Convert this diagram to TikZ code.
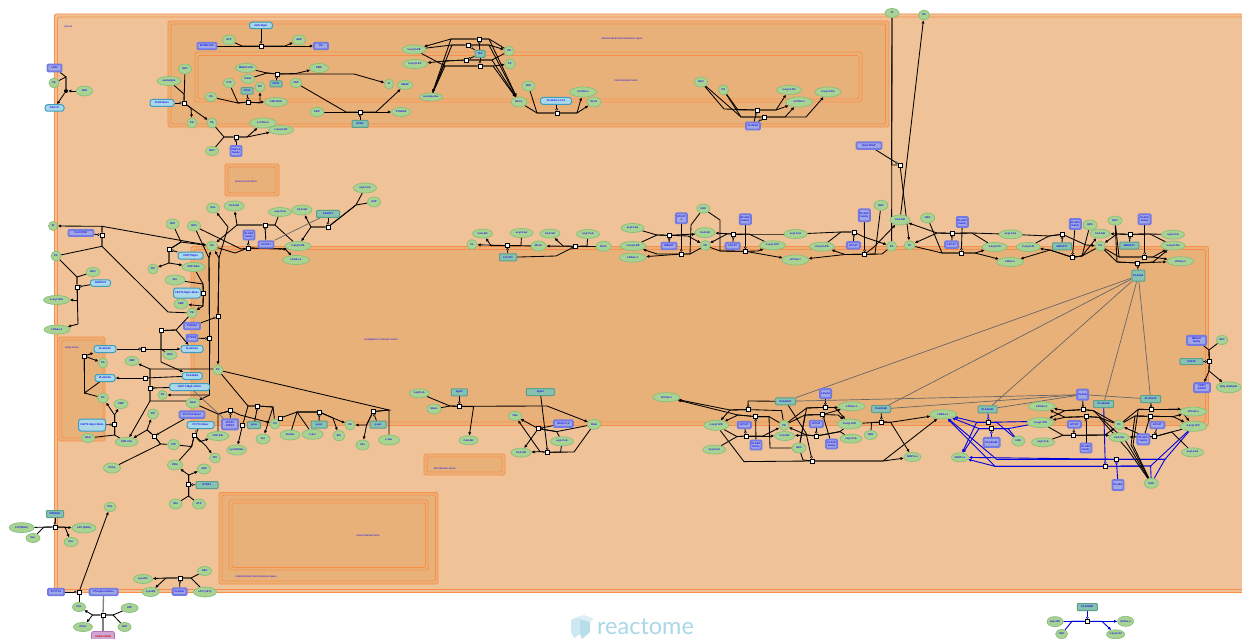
\documentclass[tikz,border=0pt]{standalone}
\usepackage{fontspec}
\setmainfont{Liberation Sans}
\newfontfamily\wm{Lato}
\usetikzlibrary{arrows.meta,shapes.geometric}
\pgfdeclarelayer{bg}
\pgfdeclarelayer{edges}
\pgfsetlayers{bg,edges,main}
\definecolor{cOut}{HTML}{EFC297}
\definecolor{cIn}{HTML}{E9B17A}
\definecolor{cLine}{HTML}{FA8E48}
\definecolor{cMol}{HTML}{A9D393}
\definecolor{cMolB}{HTML}{86BE7C}
\definecolor{cProt}{HTML}{86C2AF}
\definecolor{cProtB}{HTML}{5C9F8F}
\definecolor{cCpx}{HTML}{AAD8E8}
\definecolor{cCpxB}{HTML}{3C9DBE}
\definecolor{cSet}{HTML}{A0A8E4}
\definecolor{cSetB}{HTML}{747AE4}
\definecolor{cTxt}{HTML}{1A10F0}
\tikzset{
 ent/.style={inner sep=0pt,text=cTxt,align=center,font=\fontsize{2.6}{3}\selectfont\bfseries},
 mol/.style={ent,ellipse,draw=cMolB,fill=cMol,line width=.7pt},
 prot/.style={ent,rectangle,rounded corners=.8pt,draw=cProtB,fill=cProt,line width=1pt},
 cpx/.style={ent,rectangle,rounded corners=2.5pt,draw=cCpxB,fill=cCpx,line width=1pt},
 setn/.style={ent,rectangle,rounded corners=1pt,draw=cSetB,fill=cSet,line width=1.9pt},
 rx/.style={rectangle,draw=black,fill=white,line width=.8pt,minimum size=4pt,inner sep=0pt},
 dotn/.style={circle,fill=black,minimum size=4pt,inner sep=0pt},
 ln/.style={draw=black,line width=.85pt},
 ar/.style={ln,-{Latex[length=3.2pt,width=3.2pt]}},
 cat/.style={ln,-{Circle[open,fill=white,length=2.6pt,width=2.6pt,line width=.5pt]}},
 gry/.style={draw=black!60,line width=.7pt},
 bl/.style={draw=blue!90!black,line width=.9pt},
 bar/.style={bl,-{Latex[length=3.2pt,width=3.2pt]}},
 bcat/.style={bl,-{Circle[open,fill=white,length=2.6pt,width=2.6pt,line width=.5pt]}},
 cmp/.style={draw=cLine,line width=.8pt,rounded corners=1.5pt},
 clab/.style={inner sep=0pt,text=cTxt,font=\fontsize{2.6}{3}\selectfont},
}
\newcommand\Mol[6]{\node[mol,minimum width=#4pt,minimum height=#5pt] (#1) at (#2,#3) {#6};}
\newcommand\Prot[6]{\node[prot,minimum width=#4pt,minimum height=#5pt] (#1) at (#2,#3) {#6};}
\newcommand\Cpx[6]{\node[cpx,minimum width=#4pt,minimum height=#5pt] (#1) at (#2,#3) {#6};}
\newcommand\Setn[6]{\node[setn,minimum width=#4pt,minimum height=#5pt] (#1) at (#2,#3) {#6};}
\newcommand\Rx[3]{\node[rx] (#1) at (#2,#3) {};}
\newcommand\Cmp[5]{\path[cmp,fill=#5] (#1) rectangle (#2); \path[cmp] (#3) rectangle (#4);}
\newcommand\Ln[2]{\draw[ln] (#1) -- #2;}
\newcommand\Ar[2]{\draw[ar] (#1) -- #2;}
\newcommand\Kt[2]{\draw[cat] (#1) -- (#2);}
\begin{document}
\begin{tikzpicture}[x=1pt,y=-1pt]
\useasboundingbox (0,0) rectangle (1242,639);
\clip (0,0) rectangle (1242,639);
\begin{pgfonlayer}{bg}
\fill[white] (0,0) rectangle (1242,639);
\Cmp{54.5,14}{1250,592.5}{57.5,17}{1250,589.5}{cOut}
\Cmp{168,21}{889,127}{171,24}{885.5,124}{cIn}
\Cmp{195,52}{862,102}{198,55.5}{859,99}{cIn}
\Cmp{225,164}{279,196}{228,167}{276,193}{cIn}
\Cmp{191,246.5}{1208.5,425.5}{194,249.5}{1205.5,422}{cIn}
\Cmp{59,337}{105,441}{62,340}{103,438}{cIn}
\Cmp{219,492.5}{438,584}{222,495}{435.5,581}{cIn}
\Cmp{229,500}{428,570}{232,503}{425.5,567.5}{cIn}
\Cmp{424,454}{505,475}{427,457}{502,472}{cIn}
\end{pgfonlayer}
\node[clab] (lcyt) at (68,27) {cytosol};
\node[clab] (lims) at (622,38.5) {mitochondrial intermembrane space};
\node[clab] (lmat) at (626,80.5) {mitochondrial matrix};
\node[clab] (lper) at (246,182) {peroxisomal matrix};
\node[clab] (lerl) at (381,340) {endoplasmic reticulum lumen};
\node[clab] (lgol) at (72,348) {Golgi lumen};
\node[clab] (lmic) at (445,468.5) {Microbodies lumen};
\node[clab] (lims2) at (256,577) {mitochondrial intermembrane space};
\node[clab] (lmat2) at (368,536) {mitochondrial matrix};
% ---- nodes
\Setn{aas}{54.5}{68}{14}{7}{LPIN} \Mol{aa}{54}{83}{10}{10}{PA} \Mol{ab}{84.5}{91}{16}{10}{H2O} \Cpx{ac}{54.5}{108}{19}{6.5}{DAG:Pi} \node[dotn] (ad) at (66,91) {};
\Cpx{ap}{261}{25.5}{23}{6.5}{AGK:Mg2+} \Setn{as1}{207}{46}{19}{6.5}{MTMR:LPA} \Setn{as2}{321}{46}{14}{6.5}{PA} \Mol{aat}{229}{40}{13}{10}{ATP} \Mol{aad}{299}{40}{13}{10}{ADP} \Rx{ar}{261}{46}
\Mol{ba}{246}{68}{21}{9}{MGDG:LPA} \Mol{bb}{248}{79}{13}{9}{PGS1} \Mol{bc}{319}{68}{19}{9}{PMP} \Prot{bp}{276}{84}{12}{6}{PGS1} \Rx{br}{277}{74} \Mol{bd}{389}{84}{9}{10}{Pi}
\Mol{ca}{211}{97}{12}{9}{PA} \Mol{cb}{229}{83}{12}{9}{CTP} \Prot{cc}{247}{91}{12}{6.5}{CDS2} \Mol{ce}{260}{87}{10}{10}{PPi} \Mol{cf}{276}{102}{23}{9}{CDP-DAG} \Rx{cr}{248}{102}
\Mol{da}{317}{112}{14}{9}{PGP} \Mol{db}{296}{83}{12}{9}{CDP} \Mol{dc}{401}{112}{19}{9}{PTGDS2} \Mol{dd}{405}{85}{15}{9}{GMAP} \Prot{dp}{360}{124}{16}{7}{GPD2} \Rx{dr}{360}{112}
\Cpx{ep}{162}{103}{24}{7}{PLD6:Mn2+} \Mol{ea}{169}{81}{24}{9}{cardiolipin} \Mol{eb}{185}{69}{13}{10}{H2O} \Mol{ec}{192}{123}{10}{10}{PG} \Mol{ed}{212}{123}{10}{10}{PA} \Rx{er}{184}{103}
\Mol{fb}{212}{151}{13}{9}{H2O} \Mol{fc}{263}{123}{27}{10}{1,2 PAx-1} \Mol{fd}{281}{130}{25}{9}{1-acyl LPA} \Setn{fs}{236}{151}{11}{10}{PNPLA\\family} \Rx{fr}{236}{137}
\Mol{ga}{414}{49.5}{24}{9}{1-acyl LPE} \Mol{gb}{415}{64}{25}{9}{2-acyl LPC} \Mol{gc}{431}{97}{23}{8}{acetylserine} \Mol{gd}{509}{51}{10}{10}{PE} \Mol{ge}{510}{64}{10}{10}{PC} \Prot{gp}{480}{54}{10}{7}{TAZ} \Rx{gr}{479}{39} \Rx{gs}{468}{45} \Rx{gt}{466}{60} \Rx{gu}{480}{66} \Mol{gf}{519}{102}{16}{10}{MLCL}
\Mol{hb}{528.5}{86}{13}{10}{H2O} \Cpx{hc}{556}{101}{31}{7}{PLA2G6 L:LP1} \Mol{hd}{583}{92}{27}{10}{1,2 PAx-1} \Mol{he}{594}{102}{14}{10}{DLCL} \Rx{hr}{557}{113}
\Mol{ia}{701}{82}{13}{10}{H2O} \Mol{ib}{723.5}{90}{10}{10}{PG} \Mol{ic}{789}{90}{25}{9}{1-acyl LPG} \Mol{id}{799}{102}{27}{10}{1,2 PAx-1} \Mol{ie}{828}{92}{26}{10}{2-acyl LPG} \Setn{is}{753}{126}{14}{7}{PLA2G6} \Rx{ir}{757}{110} \Rx{it}{764}{117}
\Mol{ta1}{892}{13}{14}{9}{Pi} \Mol{ta2}{924}{15}{11}{10}{PA} \Setn{js}{869}{145.6}{25}{6.5}{DAG PPAP} \Rx{jr}{900}{165}
\Mol{ka}{472}{244.6}{10}{10}{CL} \Mol{kb}{482.6}{233.6}{20}{9}{CoA-SH} \Mol{kc}{521.6}{233}{23}{9}{acyl-CoA} \Mol{kd}{538.6}{246}{15}{10}{MLCL} \Prot{kp}{508}{257.3}{17}{7}{LCLAT1} \Rx{kr}{507.3}{245.6}
\Mol{la}{550}{233.6}{20}{9}{CoA-SH} \Mol{lb}{588}{234}{23}{9}{acyl-CoA} \Mol{lc}{603.6}{246.3}{15}{10}{DLCL} \Rx{lr}{575.3}{246.3}
\Mol{ma}{632.6}{228}{23}{9}{acyl-CoA} \Mol{mb}{633}{246}{26}{9}{1-acyl LPE} \Mol{mc}{632.6}{257.6}{27}{9}{LPEAx-1} \Setn{md}{669}{246}{15}{6.5}{MBOAT} \Setn{me}{681.3}{218.3}{11}{10}{LPCAT\\4} \Mol{mf}{705}{232.6}{20}{10}{CoA-SH} \Mol{mg}{703.3}{208.6}{13}{9}{H2O} \Mol{mh}{705.3}{245.6}{10}{10}{PE} \Rx{mr}{669.3}{235.3} \Rx{ms}{681.3}{254}
\Setn{nb}{732.6}{246}{14}{6.5}{LPCAT} \Setn{nc}{745.3}{219.3}{11}{10}{PLA2G\\family} \Mol{nd}{795.6}{234}{23}{9}{acyl-CoA} \Mol{ne}{772.6}{245.3}{26}{9}{1-acyl LPC} \Mol{nf}{795.3}{260}{27}{10}{LPCAx-1} \Rx{nr}{733.6}{234} \Rx{ns}{745.3}{251.3}
\Mol{oa}{822}{246.6}{25}{9}{2-acyl LPS} \Setn{ob}{853.3}{245.3}{13}{6.5}{LPCAT} \Setn{oc}{864.3}{215.3}{11}{12}{PLA2G\\family} \Mol{od}{881}{205.3}{14}{10}{H2O} \Mol{oe}{900}{220}{20}{10}{CoA-SH} \Mol{of}{891.6}{246.3}{10}{10}{PS} \Rx{or}{854}{232} \Rx{os}{864.6}{254.3}
\Mol{pb}{909.6}{245.3}{11}{9}{PI} \Mol{pc}{927.6}{218}{14}{10}{H2O} \Setn{pd}{951.6}{244.6}{13}{6.5}{LPCAT} \Setn{pe}{962.3}{222}{11}{10}{PLA2G\\family} \Mol{pf}{994.6}{247}{25}{9}{1-acyl LPI} \Mol{pg}{1010.6}{234.3}{23}{9}{acyl-CoA} \Mol{ph}{1010}{262}{27}{9}{LPIAx-1} \Rx{pr}{952.3}{233.3} \Rx{ps}{961.3}{253}
\Mol{qa}{1028.3}{247}{24}{9}{2-acyl LPI} \Prot{qb}{1062}{246.3}{19}{7}{MBOAT7} \Setn{qc}{1075.3}{224}{11}{10}{PLA2G\\family} \Mol{qd}{1090}{225}{14}{10}{H2O} \Mol{qe}{1100}{233.6}{20}{9}{CoA-SH} \Mol{qf}{1100.3}{246}{10}{10}{PG} \Rx{qr}{1062.3}{234.3} \Rx{qs}{1072.3}{257.3}
\Mol{ra}{1115}{220.6}{14}{9}{H2O} \Prot{rb}{1129.3}{245.6}{19}{7}{MBOAT7} \Setn{rc}{1144.6}{219.3}{12}{10}{PLA2G\\family} \Mol{rd}{1173}{234.6}{23}{9}{acyl-CoA} \Mol{re}{1173}{245.6}{24}{9}{1-acyl LPG} \Mol{rf}{1180.3}{261.3}{27}{9}{LPGAx-1} \Prot{rp}{1138.3}{275.6}{13}{11}{PLA2G4} \Rx{rr}{1130}{234.3} \Rx{rs}{1144.6}{257} \Rx{rt}{1137.6}{263}
\Mol{sa}{213}{208}{13}{10}{Cho} \Mol{sb}{234}{206}{20}{10}{CoA-SH} \Mol{sc}{280}{212}{23}{9}{acyl-CoA} \Mol{sd}{302}{210}{20}{10}{CoA-SH} \Prot{se}{328}{214}{23}{7}{AGPAT1} \Mol{sf}{365}{188}{23}{10}{acyl-CoA} \Mol{sg}{374}{202}{13}{10}{G3P} \Setn{sh}{249}{235}{11}{9}{PLA2G\\family} \Setn{si}{266}{244.5}{15}{6.5}{LPCAT1} \Mol{sj}{298}{246}{26}{9}{1-acyl LPA} \Mol{sk}{296}{260}{27}{9}{LPAAx-1} \Mol{sl}{212}{246}{11}{10}{PA} \Mol{sm}{194}{226}{13}{10}{H2O} \Rx{sr}{265}{225} \Rx{ss}{328}{227} \Rx{st}{248}{248}
\Mol{ta}{53}{226}{9}{9}{PI} \Mol{tb}{56}{256}{10}{10}{PC} \Mol{tc}{93}{272}{14}{9}{H2O} \Cpx{td}{100.5}{283}{20}{6.5}{GDPD5:2} \Setn{te}{81}{233}{25}{6}{PLD PPAP} \Mol{tf}{56.5}{300}{26}{9}{1-acyl LPA} \Mol{tg}{57}{329.6}{26}{9}{LPAAx-1} \Rx{tr}{102}{235} \Rx{ts}{77}{287}
\Mol{ua}{172.6}{224}{13}{10}{CDP} \Rx{ur}{169}{249.6} \Mol{ub}{153}{269}{10}{10}{PPi} \Mol{uc}{193.5}{267}{23}{9}{CDP-DAG} \Cpx{ud}{190.6}{255.7}{25}{7}{CDIPT:Mg2+}
\Mol{va}{175}{280}{20}{10}{Etn} \Cpx{vb}{187}{293}{27}{10}{CEPT1:Mg2+:Mn2+} \Mol{vc}{181}{304}{14}{10}{CMP} \Mol{vd}{192}{313}{10}{10}{PE} \Rx{vr}{203.3}{293.3}
\Rx{wr}{218}{316.6} \Setn{wa}{192}{326}{16}{6.5}{PTDSS1} \Rx{xr}{209.6}{338.6} \Setn{xa}{192}{338}{11}{6.5}{PTDSS} \Cpx{ya}{192}{349}{22}{7}{PLA2G4A} \Mol{yb}{170}{355}{14}{9}{H2O} \Rx{yr}{161}{330.6} \Rx{yt}{143.3}{349} \Cpx{yc}{105}{349}{22}{7}{PLA2G4A} \Rx{ys}{84.3}{356}
\Mol{yd}{103}{363}{9}{10}{PA} \Cpx{ye}{105}{378}{20}{7}{PLA2G4A} \Mol{yf}{103}{398}{11}{10}{PC} \Mol{yg}{121}{404}{14}{9}{CMP} \Cpx{yh}{92}{425}{27}{12}{CHPT1:Mg2+:Mn2+} \Mol{yi}{88}{438}{13}{9}{DAG} \Mol{yj}{126.6}{442}{23}{9}{CDP-Cho} \Rx{yr2}{114.6}{424.6}
\Mol{za}{132}{361}{14}{9}{CMP} \Mol{zb}{218}{370}{10}{10}{PC} \Cpx{zc}{192.3}{376}{20}{7}{PLA2G4A} \Rx{zr}{145.6}{378} \Rx{zs}{150}{388} \Cpx{zd}{189.6}{387}{40}{7}{CEPT1:Mg2+:Mn2+} \Mol{ze}{162.6}{395}{9}{9}{PS} \Mol{zf}{193}{403}{14}{10}{DAG}
\Setn{zg}{192}{414.6}{25}{6.5}{PCYT1A dimer} \Cpx{zh}{200.6}{425}{27}{7}{PCYT2 dimer} \Mol{zi}{218}{436}{22}{9}{CDP-Etn} \Mol{zj}{173.6}{444.6}{12}{10}{CTP} \Mol{zk}{215}{458}{11}{10}{PPi} \Mol{zl}{175}{465}{15}{10}{PEtn} \Mol{zm}{204}{469}{13}{10}{ADP} \Prot{zn}{207}{485}{22}{7}{ETNK1} \Mol{zo}{175.6}{504}{13}{10}{Etn} \Mol{zp}{199}{504}{13}{10}{ATP} \Mol{zq}{153}{414}{11}{10}{PPi} \Mol{zr2}{112}{468}{17}{10}{PCho} \Rx{zs2}{154.3}{436} \Rx{zt}{194.3}{435} \Rx{zu}{188.6}{484.6}
\Setn{va1}{230}{424.3}{16}{10}{LPCAT\\LPEAT} \Prot{va2}{254}{425}{13}{7}{pcas} \Mol{va3}{263}{439}{14}{10}{Ser} \Mol{va4}{236.6}{450}{19}{10}{LysoPtdIns} \Mol{va5}{275}{424}{10}{10}{PS} \Mol{va6}{290}{435}{20}{10}{SerAla} \Mol{va7}{312.6}{434.3}{21}{10}{L-Ser} \Prot{va8}{319}{424.6}{16}{7}{pssd} \Mol{va9}{339}{435.6}{12}{10}{Etn} \Mol{vb1}{350}{425}{10}{10}{PE} \Prot{vb2}{378}{424.6}{16}{7}{pssd} \Mol{vb3}{362.6}{445}{13}{10}{Cho} \Mol{vb4}{389}{440}{21}{10}{L-Ser} \Rx{vr1}{230.6}{410.6} \Rx{vr2}{257.6}{406} \Rx{vr3}{242.6}{425} \Rx{vr4}{280.3}{418} \Rx{vr5}{319.3}{412} \Rx{vr6}{373}{411.6}
\Mol{wa1}{419.3}{393.3}{20}{9}{AcylCoA} \Mol{wa2}{434}{409}{14}{10}{Mann} \Prot{wa3}{459.3}{392.3}{16}{7}{dgat1} \Prot{wa4}{540.3}{392}{28}{7}{dgat2} \Mol{wa5}{468.6}{440.3}{19}{9}{CoA-SH} \Mol{wa6}{515}{416}{13}{9}{TAG} \Mol{wa7}{594}{424.3}{13}{10}{DAG} \Setn{wa8}{563.3}{423.6}{19}{6.5}{DGAT1 L2} \Mol{wa9}{562}{441.3}{23}{9}{acyl-CoA} \Mol{wb1}{521}{452.6}{20}{9}{CoA-SH} \Rx{wr1}{459.3}{406.3} \Rx{wr2}{538.3}{428.6} \Rx{wr3}{547.6}{452.3}
\Mol{z1}{666.3}{397.3}{27}{9}{LPCAx-1} \Prot{z2}{785.6}{401.3}{20}{7}{PLA2G4C} \Mol{z3}{716.3}{425.3}{25}{10}{1-acyl LPE} \Setn{z4}{744.3}{425}{13}{6.5}{LPCAT} \Mol{z5}{714.3}{449.6}{23}{9}{acyl-CoA} \Setn{z6}{756}{445}{11}{9}{PLA2G\\family} \Mol{z7}{784}{425.3}{10}{10}{PE} \Mol{z8}{784.6}{436}{20}{9}{CoA-SH} \Mol{z9}{799}{448}{14}{10}{H2O} \Rx{zra}{748.3}{409.6} \Rx{zrb}{755.6}{416.6} \Rx{zrc}{746}{436} \Rx{zrd}{812.3}{461}
\Setn{z10}{825.6}{393.6}{11}{9}{LPLA2} \Mol{z11}{851.6}{406.3}{27}{9}{LPCAx-1} \Mol{z12}{849.6}{424}{25}{10}{2-acyl LPE} \Setn{z13}{816.3}{424}{13}{6.5}{LPCAT} \Mol{z14}{851}{438.6}{22}{9}{acyl-CoA} \Mol{z15}{870.6}{435}{13}{9}{H2O} \Setn{z16}{831.6}{444}{11}{9}{PLA2G\\family} \Prot{z17}{881}{409}{19}{7}{PLA2G2E} \Mol{z18}{912.3}{457}{17}{9}{GPETx-n} \Mol{z19}{943}{414.3}{27}{9}{LPEAx-1} \Rx{zre}{825.3}{407.3} \Rx{zrf}{822.6}{414.6} \Rx{zrg}{816.3}{436} \Rx{zrh}{881.6}{422}
\Mol{b2}{960}{457.3}{17}{9}{GPETx-n} \Setn{b3}{991.6}{442.3}{16}{9}{PLA2G4B} \Mol{b4}{1018.3}{441}{13}{10}{H2O} \Prot{b5}{987.6}{409.3}{19}{7}{PLA2G4D} \Mol{b6}{1040.6}{422.6}{27}{10}{2-acyl LPE} \Rx{bra}{988.6}{422.3} \Rx{brb}{991.3}{428.6}
\Setn{b7}{1082.6}{394.6}{11}{10}{PLA2G} \Mol{b8}{1041.6}{406.3}{27}{9}{LPCAx-1} \Prot{b9}{1103.6}{404}{20}{7}{PLA2G4E} \Prot{b10}{1150.6}{399}{20}{7}{PLA2G4F} \Setn{b11}{1074.3}{424.3}{13}{6.5}{LPCAT} \Mol{b12}{1043}{442.3}{23}{9}{acyl-CoA} \Setn{b13}{1086}{448}{11}{9}{PLA2G\\family} \Mol{b14}{1119}{425}{10}{10}{PC} \Mol{b15}{1119}{437.3}{20}{9}{CoA-SH} \Setn{b16}{1157.3}{425}{14}{6.5}{LPCAT} \Setn{b17}{1143.3}{439.3}{12}{10}{PLA2G\\family} \Mol{b18}{1193.3}{411.6}{27}{9}{LPCAx-1} \Mol{b19}{1193.3}{426.3}{27}{10}{2-acyl LPC} \Mol{b20}{1192.6}{452.3}{22}{9}{acyl-CoA} \Mol{b21}{1151.3}{483.3}{14}{10}{H2O} \Setn{b22}{1118}{485}{11}{10}{PLA2G} \Rx{tra}{1083}{409.6} \Rx{trb}{1086}{416.6} \Rx{trc}{1073.6}{435.3} \Rx{trd}{1151.3}{409.6} \Rx{tre}{1150}{416.3} \Rx{trf}{1154.6}{436.6} \Rx{trg}{1105.3}{466.3} \Rx{trh}{1116.3}{459.3}
\Setn{c1}{1196.6}{340.3}{19}{9}{MBOAT\\family} \Mol{c2}{1222}{340}{12}{9}{H2O} \Prot{c3}{1191.3}{361.6}{23}{6}{CHAT5} \Setn{c4}{1202}{387.6}{16}{9}{CDIPT\\AGPAT} \Mol{c5}{1228.6}{387.3}{20}{11}{fatty aldehyde} \Rx{c6}{1209.3}{361.6}
\Prot{d1}{1087.3}{607}{20}{7}{PLA2G2D} \Mol{d2}{1055}{621.6}{16}{10}{1pacHPI} \Mol{d3}{1061.6}{634}{12}{9}{H2O} \Mol{d4}{1125.6}{621.3}{16}{10}{GPIAx-n} \Mol{d5}{1115.6}{634.3}{18}{9}{1-acyl LPI} \Rx{d6}{1087.3}{621.3}
\Prot{e1}{55}{514}{17}{7}{MFSD2A} \Mol{e2}{21.6}{527.6}{25}{10}{LPC(DHA)} \Mol{e3}{33}{538}{14}{9}{Na+} \Mol{e4}{84}{528}{24}{10}{LPC (DHA)} \Mol{e5}{71}{542}{14}{9}{Na+} \Mol{e6}{110}{507}{12}{9}{Cho} \Rx{e7}{55}{527}
\Setn{f1}{56}{592}{16}{6.5}{PCYT1A} \Setn{f2}{103.6}{592}{28}{6.5}{Phosphocholine} \Mol{f3}{79}{607}{13}{9}{Cho} \Rx{f4}{79}{592} \Mol{f5}{83}{627}{19}{9}{PCho} \Mol{f6}{129.6}{608}{17}{9}{ATP} \Mol{f7}{124.6}{627}{13}{9}{ADP} \Rx{f8}{103}{615}
\node[ent,rectangle,rounded corners=2pt,draw=violet!55,fill=violet!35,line width=.8pt,minimum width=23pt,minimum height=11pt,text=red!80!black] (f9) at (103,637) {CHKA:CHKB};
\Mol{h1}{143}{579}{19}{9}{LysoPC} \Mol{h2}{150.6}{592}{17}{9}{LysoPE} \Mol{h3}{204.6}{571}{14}{9}{H2O} \Setn{h4}{179.6}{591.6}{14}{6.5}{PLA2G7} \Mol{h5}{205}{592}{23}{10}{LPC (16:0)} \Rx{h6}{180}{578}
\node[inner sep=0pt,text=cCpx,font=\fontsize{23.5}{25}\wm] (wm) at (645.5,627) {reactome};
\path[fill=cCpx!60] (571,620) -- (580,616) -- (580,634) -- (574,638) -- (571,632) -- cycle;
\path[fill=cCpx!85] (580,616) -- (590,620) -- (590,632) -- (582,639) -- (580,634) -- cycle;
\path[fill=cCpx!40] (575,618) -- (584,615) -- (594,619) -- (590,622) -- (580,619) -- cycle;
% ---- connectors
\begin{pgfonlayer}{edges}
\Ln{aas}{(66,77) -- (ad)} \Ln{aa}{(66,77) -- (ad)} \Ar{ab}{(ad)} \Ar{ad}{(ac)}
\Ln{as1}{(ar)} \Ar{ar}{(as2)} \Ln{aat}{(242,46) -- (ar)} \Ar{ar}{(285,46) -- (aad)} \Kt{ap}{ar}
\Ln{ba}{(267,73) -- (br)} \Ln{bb}{(267,73) -- (br)} \Ar{br}{(296,73.5) -- (bc)} \Ar{br}{(354,74) -- (bd)} \Kt{bp}{br}
\Ln{ca}{(238,103) -- (cr)} \Ln{cb}{(238,103) -- (cr)} \Ar{cr}{(260,103) -- (ce)} \Ar{cr}{(cf)} \Kt{cc}{cr}
\Ln{da}{(dr)} \Ln{db}{(346,112) -- (dr)} \Ar{dr}{(dc)} \Ar{dr}{(376,112) -- (dd)} \Kt{dp}{dr}
\Ln{eb}{(er)} \Ln{ea}{(184,94) -- (er)} \Ar{er}{(191,108) -- (ec)} \Ar{er}{(ed)} \Kt{ep}{er}
\Ln{ed}{(224,137) -- (fr)} \Ln{fb}{(224,137) -- (fr)} \Ar{fr}{(247,137) -- (fc)} \Ar{fr}{(247,137) -- (fd)} \Kt{fs}{fr}
\Ar{gr}{(451,39) -- (ga)} \Ar{gr}{(451,39) -- (gc)} \Ln{gd}{(489,39) -- (gr)} \Ar{gr}{(489,39) -- (gf)}
\Ln{ga}{(452,45) -- (gs)} \Ln{gc}{(452,45) -- (gs)} \Ar{gs}{(489,45) -- (gf)} \Ar{gs}{(489,45) -- (gd)}
\Ar{gt}{(445,61) -- (gb)} \Ln{gc}{(445,61) -- (gt)} \Ln{gf}{(492,60) -- (gt)} \Ln{gt}{(492,60) -- (gd)}
\Ln{ga}{(445,66) -- (gu)} \Ln{gc}{(445,66) -- (gu)} \Ar{gu}{(493,66) -- (ge)} \Ar{gu}{(493,66) -- (gf)}
\Kt{gp}{gr} \Kt{gp}{gs} \Kt{gp}{gt} \Kt{gp}{gu}
\Ln{gf}{(537,113) -- (hr)} \Ln{hb}{(537,113) -- (hr)} \Ar{hr}{(577,113) -- (hd)} \Ar{hr}{(577,113) -- (he)} \Kt{hc}{hr}
\Ln{ia}{(724,109) -- (ir)} \Ln{ib}{(738,110) -- (ir)} \Ar{ir}{(776,110) -- (ic)} \Ar{ir}{(776,110) -- (id)} \Ln{ia}{(741,117) -- (it)} \Ln{ib}{(741,117) -- (it)} \Ar{it}{(785,117) -- (id)} \Ar{it}{(806,117) -- (ie)} \Kt{is}{ir} \Kt{is}{it}
\Ln{ta1}{(of)} \Ln{ta1}{(891.6,165) -- (jr)} \Kt{js}{jr} \Ar{jr}{(pb)} \Ar{oe}{(ta2)}
\Ar{kr}{(ka)} \Ar{kr}{(491,245.6) -- (kb)} \Ln{kc}{(521,245.6) -- (kr)} \Ln{kd}{(kr)} \Kt{kp}{kr}
\Ar{lr}{(kd)} \Ar{lr}{(563,246) -- (la)} \Ln{lb}{(587,246) -- (lr)} \Ln{lc}{(lr)} \draw[cat] (kp) -- (556,256) -- (572,248) -- (lr);
\Ln{ma}{(657,235) -- (mr)} \Ln{mb}{(657,235) -- (mr)} \Ar{mr}{(695,234) -- (mf)} \Ar{mr}{(688,236) -- (mh)} \Kt{md}{mr}
\Ar{ms}{(657,254) -- (mb)} \Ar{ms}{(mc)} \Ln{mh}{(690,254) -- (ms)} \Ln{mg}{(691,225) -- (690,254) -- (ms)} \Kt{me}{ms}
\Ar{nr}{(mf)} \Ar{nr}{(727,234) -- (mh)} \Ln{nd}{(749,234) -- (nr)} \Ln{ne}{(749,234) -- (nr)} \Kt{nb}{nr}
\Ln{mh}{(720,251) -- (ns)} \Ln{mg}{(720,220) -- (720,251) -- (ns)} \Ar{ns}{(758,251) -- (ne)} \Ar{ns}{(nf)} \Kt{nc}{ns}
\Ln{nd}{(841,232) -- (or)} \Ln{oa}{(841,232) -- (or)} \Ar{or}{(864,237) -- (of)} \Kt{ob}{or}
\Ar{os}{(845,254.5) -- (oa)} \Ar{os}{(845,254.5) -- (nf)} \Ln{of}{(882,254) -- (os)} \Ln{od}{(875,254) -- (os)} \Ar{os}{(874,247) -- (oe)} \Kt{oc}{os}
\Ar{pr}{(937,233) -- (pb)} \Ar{pr}{(937,233) -- (oe)} \Ln{pg}{(972,233) -- (pr)} \Ln{pf}{(972,233) -- (pr)} \Kt{pd}{pr}
\Ln{pb}{(942,253) -- (ps)} \Ln{pc}{(942,253) -- (ps)} \Ar{ps}{(975,253) -- (pf)} \Ar{ps}{(975,253) -- (ph)} \Kt{pe}{ps}
\Ln{pg}{(1049,236) -- (qr)} \Ln{qa}{(1049,236) -- (qr)} \Ar{qr}{(1086,245) -- (qf)} \Kt{qb}{qr}
\Ar{qs}{(1050,250) -- (qa)} \Ar{qs}{(1050,250) -- (ph)} \Ln{qf}{(1082,256) -- (qs)} \Ar{qs}{(1082,256) -- (qe)} \Ln{qd}{(1082,256) -- (qs)} \Kt{qc}{qs}
\Ar{rr}{(1117,234) -- (qe)} \Ar{rr}{(1117,234) -- (qf)} \Ln{rd}{(1150,234) -- (rr)} \Ln{re}{(1150,234) -- (rr)} \Kt{rb}{rr}
\Ln{qf}{(1119,257) -- (rs)} \Ln{ra}{(1119,257) -- (rs)} \Ar{rs}{(1153,257) -- (re)} \Ar{rs}{(1153,257) -- (rf)} \Kt{rc}{rs}
\Ln{qf}{(1117,262) -- (rt)} \Ln{ra}{(1117,262) -- (rt)} \Ar{rt}{(1153,262) -- (re)} \Ar{rt}{(rf)} \Kt{rp}{rt}
\Ar{sr}{(237,225) -- (sb)} \Ar{sr}{(237,225) -- (sl)} \Ln{sc}{(275,225) -- (sr)} \Ln{sj}{(275,225) -- (sr)} \Kt{si}{sr}
\Ar{ss}{(311,227) -- (sd)} \Ar{ss}{(311,227) -- (sj)} \Ln{sf}{(356,205) -- (ss)} \Ln{sg}{(356,205) -- (ss)} \Kt{se}{ss}
\Ar{st}{(285,249) -- (sj)} \Ar{st}{(285,249) -- (sk)} \Ln{sl}{(235,253) -- (st)} \Ln{sm}{(241,249) -- (st)} \Kt{sh}{st}
\Ar{tr}{(102,226.3) -- (ta)} \Ar{tr}{(102,226.3) -- (sl)} \Ln{tb}{(102,246.3) -- (tr)} \Ln{vd}{(168,312) -- (102,246.3) -- (tr)} \Kt{te}{tr}
\Ln{tb}{(77,277) -- (ts)} \Ln{tc}{(77,277) -- (ts)} \Ar{ts}{(77,300) -- (tf)} \Ar{ts}{(78,324) -- (tg)} \Kt{td}{ts}
\Ln{ua}{(181,242) -- (ur)} \Ar{ur}{(181,242) -- (sl)} \Ar{ur}{(169,263) -- (ub)} \Ar{ur}{(169,263) -- (uc)} \Kt{ud}{ur}
\Ln{uc}{(203,284) -- (vr)} \Ln{va}{(203,284) -- (vr)} \Ar{vr}{(203,306) -- (vc)} \Ar{vr}{(203,306) -- (vd)} \Kt{vb}{vr}
\Ar{wr}{(219,258) -- (228,227) -- (sa)} \Ar{wr}{(219,258) -- (sl)} \Ar{wr}{(zb)} \Kt{wa}{wr}
\Ln{sm}{(209,258) -- (xr)} \Ar{xr}{(209,258) -- (sl)} \Ar{xr}{(209.5,395) -- (ze)} \Ar{xr}{(209.5,395) -- (zf)} \Kt{xa}{xr}
\Ln{vd}{(176,330) -- (yr)} \Ar{yr}{(176,330) -- (ya)} \Ar{yr}{(161,362) -- (zc)} \Kt{yc}{yt} \Ar{yt}{(ya)} \Ln{yb}{(161,349) -- (yr)}
\Ar{ys}{(yc)} \Ar{ys}{(yd)} \Ln{ye}{(84.6,393) -- (ys)} \Ln{yf}{(84.6,393) -- (ys)}
\Ln{zc}{(zr)} \Ar{zr}{(ye)}
\Ar{zs}{(150,369) -- (za)} \Ar{zs}{(150,369) -- (213,369) -- (zb)} \Ln{zf}{(186,401) -- (150,401) -- (zs)} \Ar{zs}{(150,401) -- (yj)} \Kt{zd}{zs}
\Ln{yi}{(114.6,435) -- (yr2)} \Ln{yj}{(114.6,435) -- (yr2)} \Ar{yr2}{(114.6,415) -- (yf)} \Ar{yr2}{(114.6,415) -- (yg)} \Kt{yh}{yr2}
\Ar{zs2}{(147,430) -- (yj)} \Ar{zs2}{(147,430) -- (zq)} \Ln{zj}{(160.6,444) -- (zs2)} \Ln{zr2}{(160.6,444) -- (zs2)} \Kt{zg}{zs2}
\Ln{zj}{(191.6,446.6) -- (zt)} \Ln{zl}{(191.6,446.6) -- (zt)} \Ar{zt}{(200,441.6) -- (zi)} \Ar{zt}{(206,446) -- (zk)} \Kt{zh}{zt}
\Ar{zu}{(188.6,475) -- (zl)} \Ar{zu}{(188.6,475) -- (zm)} \Ln{zo}{(188.6,496) -- (zu)} \Ln{zp}{(188.6,496) -- (zu)} \Kt{zn}{zu}
\Ln{zf}{(218,414) -- (vr1)} \Ln{zi}{(218,414) -- (vr1)} \Ar{vr1}{(240,415) -- (va5)} \Kt{va1}{vr1}
\Ln{zb}{(248,406) -- (vr2)} \Ar{vr2}{(273,407) -- (va3)} \Ln{vr2}{(273,407) -- (va5)} \Ln{vr2}{(248,406) -- (vr3)} \Ar{vr3}{(va4)} \Kt{va2}{vr2}
\Ln{va5}{(vr4)} \Ln{vr4}{(297,412) -- (vr5)} \Ln{va6}{(297,412) -- (vr5)} \Ln{va7}{(297,412) -- (vr5)} \Ar{vr5}{(333,418) -- (vb1)} \Ar{vr5}{(333,418) -- (va9)} \Kt{va8}{vr5}
\Ln{zb}{(389,410) -- (vr6)} \Ln{vb4}{(389,410) -- (vr6)} \Ar{vr6}{(366.6,425) -- (vb1)} \Ar{vr6}{(366.6,425) -- (vb3)} \Kt{vb2}{vr6}
\Ln{wa1}{(450,406) -- (wr1)} \Ln{wa2}{(450,406) -- (wr1)} \Ar{wr1}{(547,406) -- (wa7)} \Ar{wr1}{(473.6,406.6) -- (wa5)} \Kt{wa3}{wr1}
\Ar{wr2}{(wa6)} \Ar{wr2}{(wb1)} \Ln{wa7}{(556.6,431.6) -- (wr2)} \Ln{wa9}{(556.6,431.6) -- (wr2)} \Kt{wa8}{wr2}
\Ar{wr3}{(540,451.6) -- (wa6)} \Ar{wr3}{(540,451.6) -- (wb1)} \Ln{wa7}{(574,452) -- (wr3)} \Ln{wa9}{(560.6,452) -- (wr3)} \Kt{wa4}{wr3}
\Ar{zra}{(730,410) -- (z1)} \Ar{zra}{(730,410) -- (z3)} \Ln{z7}{(781.6,410.6) -- (zra)} \draw[cat] (z2) -- (748,401) -- (zra);
\Ar{zrb}{(738,415) -- (z1)} \Ar{zrb}{(738,415) -- (z3)} \Ln{z9}{(770,448) -- (769,416.6) -- (zrb)} \Ln{z7}{(769,416.6) -- (zrb)} \Kt{z6}{zrb}
\Ln{z3}{(737,436.6) -- (zrc)} \Ln{z5}{(737,436.6) -- (zrc)} \Ar{zrc}{(763,436) -- (z7)} \Ar{zrc}{(z8)} \Kt{z4}{zrc}
\Ln{z3}{(744,461.6) -- (zrd)} \Ln{z9}{(803,460) -- (zrd)} \Ar{zrd}{(883,461) -- (z18)} \Ar{zrd}{(883,461) -- (z19)} \draw[cat] (z2) -- (806,433) -- (zrd);
\Ln{z7}{(806.6,408) -- (zre)} \Ln{z9}{(806.6,408) -- (zre)} \Ar{zre}{(835,407.6) -- (z11)} \Ar{zre}{(835,407.6) -- (z12)} \Kt{z10}{zre}
\Ln{z7}{(805,415) -- (zrf)} \Ln{z9}{(805,415) -- (zrf)} \Ar{zrf}{(838,415) -- (z12)} \Ar{zrf}{(z11)} \Kt{z16}{zrf}
\Ar{zrg}{(806.6,435) -- (z7)} \Ar{zrg}{(806.6,435) -- (z8)} \Ln{z12}{(840,431.6) -- (zrg)} \Ln{z14}{(840,431.6) -- (zrg)} \Kt{z13}{zrg}
\Ln{z12}{(zrh)} \Ln{z15}{(871.6,422.6) -- (zrh)} \Ar{zrh}{(890.6,422.3) -- (z19)} \Ar{zrh}{(890.6,422.3) -- (z18)} \Kt{z17}{zrh}
\draw[bar] (bra) -- (976.6,422.3) -- (z19); \draw[bar] (bra) -- (976.6,422.3) -- (b2); \draw[bl] (b6) -- (1026,421.6) -- (bra); \draw[bl] (b4) -- (997,422.6) -- (bra); \draw[bcat] (b5) -- (bra);
\draw[bar] (brb) -- (979,428.6) -- (z19); \draw[bar] (brb) -- (979,428.6) -- (b2); \draw[bl] (b6) -- (1008,428.6) -- (brb); \draw[bl] (b4) -- (1008,428.6) -- (brb); \draw[bcat] (b3) -- (brb);
\draw[bar] (trh) -- (996.6,459.3) -- (z19); \draw[bar] (trh) -- (b2); \draw[bl] (b19) -- (1165,459.3) -- (trh); \draw[bl] (b21) -- (1165,459.3) -- (trh); \draw[bcat] (b22) -- (trh);
\draw[bar] (trg) -- (995,466.3) -- (z19); \draw[bar] (trg) -- (995,466.3) -- (b2); \draw[bl] (b19) -- (1150.6,466) -- (trg); \draw[bl] (b21) -- (1150.6,466) -- (trg); \draw[bcat] (b9) -- (trg);
\Ar{tra}{(1065,410.6) -- (b8)} \Ar{tra}{(1065,410.6) -- (b6)} \Ln{b14}{(1093.3,410.6) -- (tra)} \Ln{b21}{(1125,440) -- (1093.3,410.6) -- (tra)} \Kt{b7}{tra}
\Ar{trb}{(1065,417.3) -- (b8)} \Ar{trb}{(1065,417.3) -- (b6)} \Ln{b14}{(1099,417.3) -- (trb)} \Ln{b21}{(1128,450) -- (1099,417.3) -- (trb)} \Kt{b13}{trb}
\Ln{b6}{(1063,435.3) -- (trc)} \Ln{b12}{(1063,435.3) -- (trc)} \Ar{trc}{(1105,435) -- (b14)} \Ar{trc}{(1105,435) -- (b15)} \Kt{b11}{trc}
\Ln{b14}{(1138.3,409.3) -- (trd)} \Ln{b21}{(1133,445) -- (1138.3,409.3) -- (trd)} \Ar{trd}{(1180,409.3) -- (b18)} \Ar{trd}{(1180,409.3) -- (b19)} \Kt{b10}{trd}
\Ln{b14}{(1135,416) -- (tre)} \Ln{b21}{(1131,445) -- (1135,416) -- (tre)} \Ar{tre}{(1173,416.6) -- (b18)} \Ar{tre}{(1173,416.6) -- (b19)} \Kt{b17}{tre}
\Ar{trf}{(1145,436.6) -- (b14)} \Ar{trf}{(1145,436.6) -- (b15)} \Ln{b19}{(1171.6,432) -- (trf)} \Ln{b20}{(1171.6,432) -- (trf)} \Kt{b16}{trf}
\draw[gry] (rp) -- (z2); \draw[gry] (rp) -- (z17); \draw[gry] (rp) -- (b5); \draw[gry] (rp) -- (b9); \draw[gry] (rp) -- (b10);
\draw[gry] (b7) -- (z2); \draw[gry] (b7) -- (z17); \draw[gry] (b7) -- (b5); \draw[gry] (b7) -- (b10); \draw[gry] (se) -- (si); \draw[gry] (zd) -- (va1);
\Ln{c1}{(1209,350) -- (c6)} \Ln{c2}{(1209,350) -- (c6)} \Ar{c6}{(1209,371) -- (c4)} \Ar{c6}{(1209,371) -- (c5)} \Kt{c3}{c6}
\draw[bl] (d2) -- (d6); \draw[bl] (d3) -- (1072,621.3) -- (d6); \draw[bar] (d6) -- (d4); \draw[bar] (d6) -- (1102,621.3) -- (d5); \draw[bcat] (d1) -- (d6);
\Ln{e2}{(e7)} \Ln{e3}{(44,527) -- (e7)} \Ar{e7}{(e4)} \Ar{e7}{(65,527) -- (e5)} \Kt{e1}{e7}
\Kt{f1}{f4} \Ar{f4}{(e6)} \Ln{f3}{(f4)}
\draw[draw=black!50,line width=1.3pt] (f2) -- (f8); \draw[draw=black!50,line width=1.3pt] (f9) -- (f8);
\Ar{f8}{(92.6,615) -- (f3)} \Ar{f8}{(92.6,615) -- (f5)} \Ln{f6}{(113,615) -- (f8)} \Ln{f7}{(113,615) -- (f8)}
\Ar{h6}{(166,578) -- (h1)} \Ar{h6}{(166,578) -- (h2)} \Ln{h3}{(191,578) -- (h6)} \Ln{h5}{(191,578) -- (h6)} \Kt{h4}{h6}
\end{pgfonlayer}
\end{tikzpicture}
\end{document}
